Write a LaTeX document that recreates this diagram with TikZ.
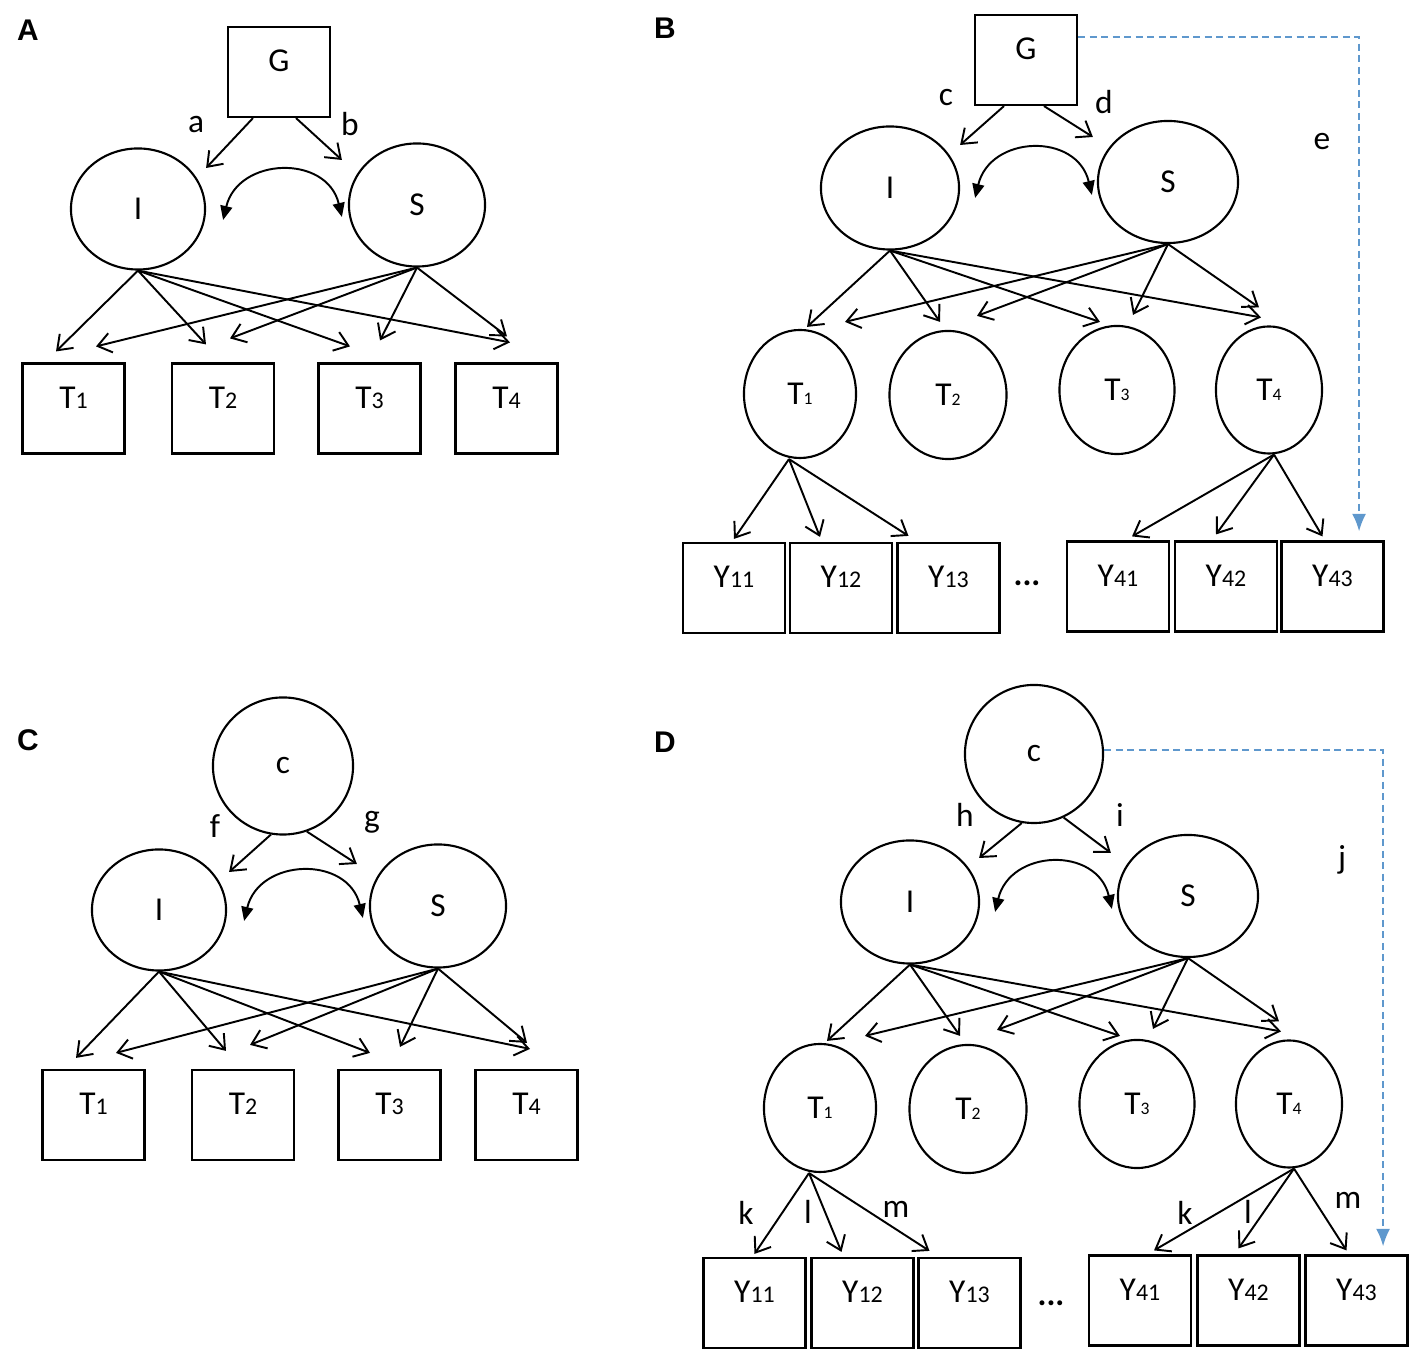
\documentclass[tikz,border=0pt]{standalone}
\usepackage{fontspec}
\setmainfont{Carlito}
\newfontfamily\panelfont{Liberation Sans}
\usetikzlibrary{shapes.geometric,arrows.meta,calc}
\definecolor{pathblue}{RGB}{95,152,205}
\newcommand{\boxsub}[1]{{\fontsize{6.8}{7}\selectfont #1}}
\newcommand{\circsub}[1]{{\fontsize{5}{5}\selectfont #1}}
\tikzset{
  obsbox/.style={draw, line width=0.6pt, minimum width=1.02cm, minimum height=0.9cm,
    inner sep=0pt, text height=0.24cm, text depth=0.24cm},
  latent/.style={draw, ellipse, line width=0.6pt, inner sep=0pt},
  factor/.style={latent, minimum width=1.36cm, minimum height=1.23cm},
  occasion/.style={latent, minimum width=1.14cm, minimum height=1.28cm},
  loading/.style={line width=0.55pt, -{Straight Barb[length=3.8pt,width=5.6pt]}},
  covar/.style={line width=0.55pt, {Triangle[length=4pt,width=3.4pt]}-{Triangle[length=4pt,width=3.4pt]}},
  direct/.style={pathblue, line width=0.6pt, dash pattern=on 0.07cm off 0.045cm,
    -{Latex[length=5pt,width=4pt]}},
  panellab/.style={font=\panelfont\bfseries\fontsize{8.5}{10}\selectfont},
}
\begin{document}
\begin{tikzpicture}[x=0.01cm,y=-0.01cm,font=\fontsize{9.5}{11}\selectfont]
  \useasboundingbox (0,0) rectangle (1423,1368);
  % panel A
  \node[panellab] (labA) at (28,30) {A};
  \node[obsbox] (aG) at (279,72) {G};
  \node[factor, minimum width=1.34cm, minimum height=1.21cm] (aI) at (138,209) {I};
  \node[factor] (aS) at (417,205) {S};
  \node[obsbox] (aT1) at (73.5,408.5) {T\boxsub{1}};
  \node[obsbox] (aT2) at (223,408.5) {T\boxsub{2}};
  \node[obsbox] (aT3) at (369.5,408.5) {T\boxsub{3}};
  \node[obsbox] (aT4) at (506.5,408.5) {T\boxsub{4}};
  \node (la) at (196,125) {a};
  \node (lb) at (350,124) {b};
  \draw[loading] ($(aG.south)+(-26,0)$) -- ($(aI.east)+(0,-41)$);
  \draw[loading] ($(aG.south)+(17,0)$) -- ($(aS.west)+(-6,-45)$);

  % panel C
  \node[panellab] (labC) at (28,740) {C};
  \node[latent, minimum width=1.40cm, minimum height=1.37cm] (cC) at (283,766) {c};
  \node[factor, minimum width=1.34cm, minimum height=1.21cm] (cI) at (159,910) {I};
  \node[factor] (cS) at (438,906) {S};
  \node[obsbox] (cT1) at (93.5,1115) {T\boxsub{1}};
  \node[obsbox] (cT2) at (243,1115) {T\boxsub{2}};
  \node[obsbox] (cT3) at (389.5,1115) {T\boxsub{3}};
  \node[obsbox] (cT4) at (526.5,1115) {T\boxsub{4}};
  \node (lf) at (215,826) {f};
  \node (lg) at (372,822) {g};
  \draw[loading] (cC.260) -- ($(cI.east)+(2,-38)$);
  \draw[loading] (cC.290) -- ($(cS.west)+(-12,-42)$);

  % loadings on T1..T4 in A and C
  \foreach \p in {a,c} {
    \draw[covar] ($(\p I.east)+(17,11)$) .. controls +(15,-63) and +(-15,-63) .. ($(\p S.west)+(-6,12)$);
    \foreach \tg/\dx/\dy in {T1/-17.5/-11,T2/-17/-18,T3/-19.5/-16,T4/3.5/-20}
      \draw[loading] (\p I.south) -- ($(\p\tg.north)+(\dx,\dy)$);
    \foreach \tg/\dx/\dy in {T1/22.5/-16,T2/7/-24,T3/10.5/-22,T4/0.5/-26}
      \draw[loading] (\p S.south) -- ($(\p\tg.north)+(\dx,\dy)$);
  }

  % panel B
  \node[panellab] (labB) at (665,28) {B};
  \node[obsbox] (bG) at (1026,60) {G};
  \node[factor, minimum width=1.38cm] (bI) at (890,188) {I};
  \node[factor, minimum width=1.40cm, minimum height=1.22cm] (bS) at (1168,182) {S};
  \node[occasion, minimum width=1.12cm] (bT1) at (800,394) {T\circsub{1}};
  \node[occasion, minimum width=1.17cm] (bT2) at (948,395) {T\circsub{2}};
  \node[occasion, minimum width=1.15cm] (bT3) at (1117,390) {T\circsub{3}};
  \node[occasion, minimum width=1.06cm, minimum height=1.27cm] (bT4) at (1269,390) {T\circsub{4}};
  \node[obsbox] (bY11) at (734,588) {Y\boxsub{11}};
  \node[obsbox] (bY12) at (841,588) {Y\boxsub{12}};
  \node[obsbox] (bY13) at (948.5,588) {Y\boxsub{13}};
  \node[obsbox] (bY41) at (1118,586.5) {Y\boxsub{41}};
  \node[obsbox] (bY42) at (1226,586.5) {Y\boxsub{42}};
  \node[obsbox] (bY43) at (1332.5,586.5) {Y\boxsub{43}};
  \node (bdots) at (1027,583) {\bfseries...};
  \node (lc) at (946,98) {c};
  \node (ld) at (1104,102) {d};
  \node (le) at (1322,142) {e};
  \draw[loading] ($(bG.south)+(-22,0)$) -- ($(bI.east)+(0,-43)$);
  \draw[loading] ($(bG.south)+(18,0)$) -- ($(bS.west)+(-4,-45)$);
  \draw[direct] ($(bG.north east)+(0,23)$) -| ($(bY43.north east)+(-25.5,-9)$);

  % panel D
  \node[panellab] (labD) at (665,742) {D};
  \node[latent, minimum width=1.38cm, minimum height=1.38cm] (dC) at (1034,754) {c};
  \node[factor, minimum width=1.38cm] (dI) at (910,902) {I};
  \node[factor, minimum width=1.40cm, minimum height=1.22cm] (dS) at (1188,896) {S};
  \node[occasion, minimum width=1.12cm] (dT1) at (820,1108) {T\circsub{1}};
  \node[occasion, minimum width=1.17cm] (dT2) at (968,1109) {T\circsub{2}};
  \node[occasion, minimum width=1.15cm] (dT3) at (1137,1104) {T\circsub{3}};
  \node[occasion, minimum width=1.06cm, minimum height=1.27cm] (dT4) at (1289,1104) {T\circsub{4}};
  \node[obsbox] (dY11) at (754.5,1303) {Y\boxsub{11}};
  \node[obsbox] (dY12) at (862.5,1303) {Y\boxsub{12}};
  \node[obsbox] (dY13) at (969.5,1303) {Y\boxsub{13}};
  \node[obsbox] (dY41) at (1140,1300.5) {Y\boxsub{41}};
  \node[obsbox] (dY42) at (1248.5,1300.5) {Y\boxsub{42}};
  \node[obsbox] (dY43) at (1356.5,1300.5) {Y\boxsub{43}};
  \node (ddots) at (1051,1303) {\bfseries...};
  \node (lh) at (965,815) {h};
  \node (li) at (1120,815) {i};
  \node (lj) at (1342,860) {j};
  \node (lk1) at (746,1213) {k};
  \node (ll1) at (808,1212) {l};
  \node (lm1) at (896,1209) {m};
  \node (lk4) at (1185,1213) {k};
  \node (ll4) at (1248,1212) {l};
  \node (lm4) at (1348,1200) {m};
  \draw[loading] (dC.260) -- ($(dI.east)+(-1,-44)$);
  \draw[loading] (dC.295) -- ($(dS.west)+(-6,-43)$);
  \draw[direct] ($(dC.east)+(0,-4)$) -| ($(dY43.north east)+(-25.5,-8)$);

  % loadings and indicators in B and D
  \foreach \p in {b,d} {
    \draw[covar] ($(\p I.east)+(15,10)$) .. controls +(15,-63) and +(-15,-63) .. ($(\p S.west)+(-5,13)$);
    \foreach \tg/\dx/\dy in {T1/7/-2,T2/-8/-8,T3/-17/-3,T4/-8/-8}
      \draw[loading] (\p I.south) -- ($(\p\tg.north)+(\dx,\dy)$);
    \foreach \tg/\dx/\dy in {T1/45/-7,T2/29/-14,T3/16/-10,T4/-10/-18}
      \draw[loading] (\p S.south) -- ($(\p\tg.north)+(\dx,\dy)$);
    \foreach \y/\dx/\dy in {Y11/0/-3,Y12/-21/-5,Y13/-40/-6}
      \draw[loading] ($(\p T1.south)+(-11,0)$) -- ($(\p\y.north)+(\dx,\dy)$);
    \foreach \y/\dx/\dy in {Y41/14/-4,Y42/-10/-6,Y43/-10/-4}
      \draw[loading] ($(\p T4.south)+(5,0)$) -- ($(\p\y.north)+(\dx,\dy)$);
  }
\end{tikzpicture}
\end{document}
